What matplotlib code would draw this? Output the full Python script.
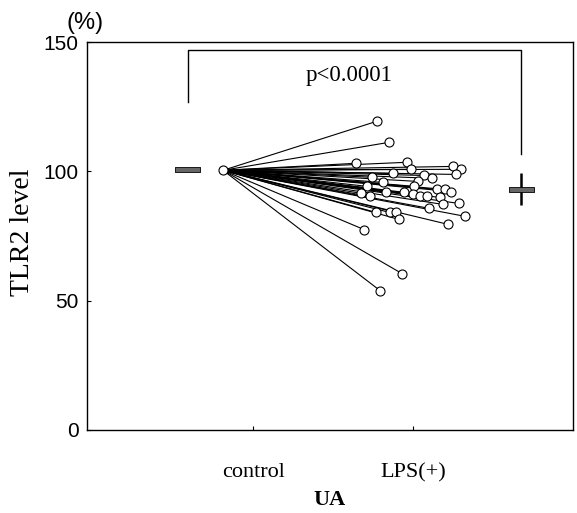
import numpy as np
import matplotlib
matplotlib.use('Agg')
import matplotlib.pyplot as plt
from matplotlib.path import Path

# control value (all normalised to 100 %)
control_x = 2.8
control_val = 100.4

# LPS(+) values, x is the horizontal jitter used in the original figure
lps_x = [5.97, 6.21, 5.53, 6.58, 6.67, 7.53, 7.70, 7.59, 6.30, 5.86,
         6.93, 7.10, 6.81, 6.09, 5.76, 6.73, 7.20, 7.37, 7.49, 5.64,
         5.82, 6.15, 6.52, 6.71, 6.85, 7.00, 7.26, 7.04, 7.33, 7.65,
         5.95, 6.23, 6.36, 6.42, 7.78, 7.43, 5.70, 6.48, 6.03]
lps_val = [119.4, 111.2, 103.1, 103.5, 100.8, 101.9, 100.8, 98.8, 99.2, 97.7,
           98.4, 97.3, 96.1, 95.7, 94.2, 94.2, 93.0, 93.0, 92.2, 91.5,
           90.3, 91.9, 91.9, 91.1, 90.3, 90.3, 89.9, 85.7, 87.2, 87.6,
           84.1, 84.1, 84.1, 81.4, 82.6, 79.5, 77.5, 60.5, 53.9]

# group means and SD
mean_x = [2.06, 8.93]
mean_val = [100.8, 93.2]
mean_sd = [0, 6.2]

tick_pos = [3.42, 6.71]
tick_labels = ['control', 'LPS(+)']

fig = plt.figure(figsize=(5.77, 5.13), dpi=100)
ax = fig.add_axes([0.1508, 0.1618, 0.8422, 0.7563])

for x, v in zip(lps_x, lps_val):
    ax.plot([control_x, x], [control_val, v], color='black', lw=0.8, zorder=2)
ax.plot(lps_x, lps_val, 'o', ms=6.5, mfc='white', mec='black', mew=0.8, zorder=3)
ax.plot([control_x], [control_val], 'o', ms=6.5, mfc='white', mec='black', mew=0.8, zorder=4)

# mean marks: flat grey bar, SD as vertical line
bar = Path([(-1, -0.2), (1, -0.2), (1, 0.2), (-1, 0.2), (-1, -0.2)],
           [Path.MOVETO, Path.LINETO, Path.LINETO, Path.LINETO, Path.CLOSEPOLY])
ax.errorbar(mean_x[1], mean_val[1], yerr=mean_sd[1], fmt='none', ecolor='black',
            elinewidth=1.8, capsize=0, zorder=3)
ax.plot(mean_x, mean_val, linestyle='none', marker=bar, ms=18,
        mfc='#666666', mec='black', mew=0.6, zorder=4)

# significance bracket
ax.plot([2.08, 2.08, 8.93, 8.93], [126.7, 146.9, 146.9, 106.6], color='black', lw=1)
ax.text(5.4, 141, 'p<0.0001', ha='center', va='top', fontsize=16.5,
        family='Liberation Serif')

ax.set_xlim(0, 10)
ax.set_ylim(0, 150)
ax.set_yticks([0, 50, 100, 150])
ax.set_xticks(tick_pos)
ax.set_xticklabels(tick_labels, family='Liberation Serif', fontsize=16)
ax.tick_params(axis='x', direction='in', length=3, pad=24)
ax.tick_params(axis='y', direction='in', length=3, labelsize=15, pad=6)
for lab in ax.get_yticklabels():
    lab.set_family('Liberation Sans')
for s in ax.spines.values():
    s.set_linewidth(1)

fig.text(23 / 577, 1 - 232 / 513, 'TLR2 level', rotation=90, ha='center', va='center',
         family='Liberation Serif', fontsize=20)
fig.text(330 / 577, 1 - 500 / 513, 'UA', ha='center', va='center',
         family='Liberation Serif', fontsize=16, fontweight='bold')
fig.text(85 / 577, 1 - 23 / 513, '(%)', ha='center', va='center', fontsize=17,
         family='Liberation Sans')

fig.savefig('out.png', dpi=100)
